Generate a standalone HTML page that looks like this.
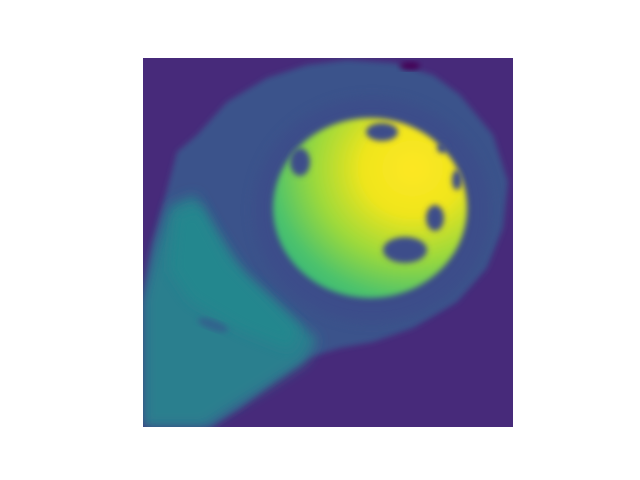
<!DOCTYPE html>
<html><head><meta charset="utf-8"><style>
html,body{margin:0;padding:0;background:#fff;width:640px;height:480px;overflow:hidden}
svg{display:block}
</style></head><body>
<svg width="640" height="480">
<defs>
<filter id="b1" x="-20%" y="-20%" width="140%" height="140%"><feGaussianBlur stdDeviation="3"/></filter>
<filter id="b2" x="-20%" y="-20%" width="140%" height="140%"><feGaussianBlur stdDeviation="6"/></filter>
<radialGradient id="lv" cx="0.72" cy="0.28" r="0.85">
<stop offset="0" stop-color="#fde725"/><stop offset="0.3" stop-color="#f0e51c"/>
<stop offset="0.6" stop-color="#9bd93c"/><stop offset="0.85" stop-color="#4ec36b"/><stop offset="1" stop-color="#35b779"/>
</radialGradient>
<clipPath id="clip"><rect x="143" y="58" width="370" height="369"/></clipPath>
</defs>
<rect x="143" y="58" width="370" height="369" fill="#472a7a"/>
<g clip-path="url(#clip)">
<polygon fill="#3b528b" filter="url(#b1)"
points="143,305 153,242 177,152 197,135 227,102 267,78 307,65 347,60 393,63 433,75 460,95 493,135 508,182 503,228 487,268 457,302 413,328 373,342 340,348 307,358 273,382 240,408 210,427 143,427"/>
<polygon fill="#2c7f8e" filter="url(#b2)"
points="143,300 155,250 170,205 195,195 215,230 245,275 285,310 318,340 305,362 270,385 230,410 205,427 143,427"/>
<polygon fill="#23898e" filter="url(#b2)" opacity="0.8"
points="175,215 200,205 230,260 270,300 300,330 290,350 240,330 190,300 170,270"/>
<ellipse cx="213" cy="325" rx="16" ry="5" fill="#33638d" filter="url(#b1)" transform="rotate(20 213 325)"/>
<ellipse cx="372" cy="210" rx="118" ry="112" fill="#3e4a89" filter="url(#b2)" opacity="0.6"/>
<ellipse cx="370" cy="208" rx="97" ry="90" fill="url(#lv)" filter="url(#b1)"/>
<g fill="#3e4d8a" filter="url(#b1)">
<ellipse cx="405" cy="250" rx="22" ry="13"/>
<ellipse cx="435" cy="218" rx="9" ry="13"/>
<ellipse cx="382" cy="132" rx="16" ry="9"/>
<ellipse cx="300" cy="162" rx="10" ry="14"/>
<ellipse cx="457" cy="180" rx="5" ry="10"/>
<ellipse cx="442" cy="148" rx="5" ry="5"/>
</g>
<ellipse cx="410" cy="66" rx="10" ry="4" fill="#440154" filter="url(#b1)"/>
</g>
</svg>
</body></html>
